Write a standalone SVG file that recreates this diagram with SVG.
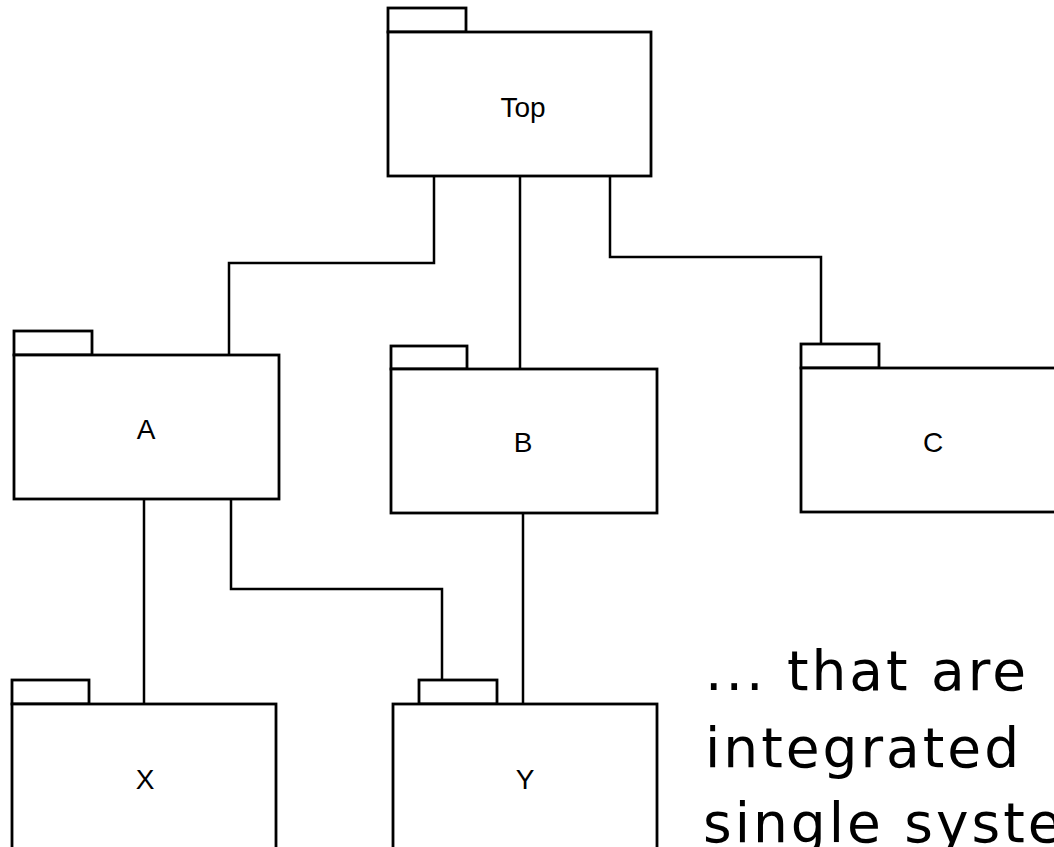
<svg xmlns="http://www.w3.org/2000/svg" width="1054" height="847" viewBox="0 0 1054 847">
<style>
.pk{fill:#fff;stroke:#000;stroke-width:2.8}
.lb{font-family:"Liberation Sans",Arial,sans-serif;font-size:28px;text-anchor:middle;fill:#000}
.cn{fill:none;stroke:#000;stroke-width:2.5}
.big{font-family:"DejaVu Sans",sans-serif;font-size:55px;letter-spacing:3px;fill:#000}
</style>
<rect width="1054" height="847" fill="#fff"/>
<g id="connectors">
<path class="cn" d="M434 176V263H229V355"/>
<path class="cn" d="M520 176V369"/>
<path class="cn" d="M610 176V257H821V344"/>
<path class="cn" d="M144 499V704"/>
<path class="cn" d="M231 499V589H442V680"/>
<path class="cn" d="M523 513V704"/>
</g>
<g id="top"><rect class="pk" x="388" y="8" width="78" height="24"/><rect class="pk" x="388" y="32" width="263" height="144"/><text class="lb" x="523" y="117">Top</text></g>
<g id="a"><rect class="pk" x="14" y="331" width="78" height="24"/><rect class="pk" x="14" y="355" width="265" height="144"/><text class="lb" x="146" y="439">A</text></g>
<g id="b"><rect class="pk" x="391" y="346" width="76" height="23"/><rect class="pk" x="391" y="369" width="266" height="144"/><text class="lb" x="523" y="452">B</text></g>
<g id="c"><rect class="pk" x="801" y="344" width="78" height="24"/><rect class="pk" x="801" y="368" width="265" height="144"/><text class="lb" x="933" y="452">C</text></g>
<g id="x"><rect class="pk" x="12" y="680" width="77" height="24"/><rect class="pk" x="12" y="704" width="264" height="150"/><text class="lb" x="145" y="789">X</text></g>
<g id="y"><rect class="pk" x="419" y="680" width="78" height="24"/><rect class="pk" x="393" y="704" width="264" height="150"/><text class="lb" x="525" y="789">Y</text></g>
<g id="caption">
<text class="big" x="705" y="690">... that are</text>
<text class="big" x="705" y="767">integrated</text>
<text class="big" x="703" y="842">single system</text>
</g>
</svg>
